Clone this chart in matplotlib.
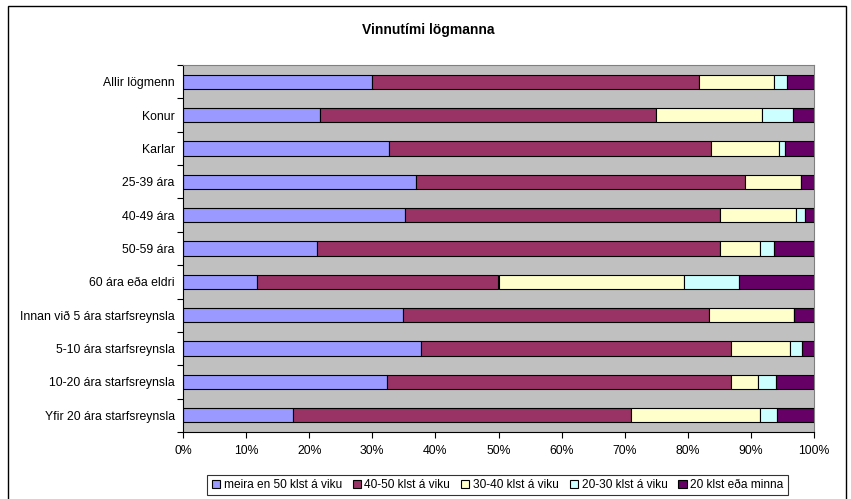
import matplotlib
matplotlib.use("Agg")
import matplotlib.pyplot as plt
from matplotlib.patches import Rectangle
import numpy as np

plt.rcParams['font.family'] = ['Liberation Sans', 'DejaVu Sans']

categories = ["Allir lögmenn", "Konur", "Karlar", "25-39 ára", "40-49 ára",
              "50-59 ára", "60 ára eða eldri", "Innan við 5 ára starfsreynsla",
              "5-10 ára starfsreynsla", "10-20 ára starfsreynsla",
              "Yfir 20 ára starfsreynsla"]
series_names = ["meira en 50 klst á viku", "40-50 klst á viku", "30-40 klst á viku",
                "20-30 klst á viku", "20 klst eða minna"]
s_over50 = [30.0, 21.7, 32.6, 37.0, 35.2, 21.2, 11.8, 34.9, 37.7, 32.3, 17.4]
s_40_50 = [51.7, 53.3, 51.0, 52.1, 49.9, 63.9, 38.2, 48.5, 49.1, 54.5, 53.6]
s_30_40 = [12.0, 16.7, 10.8, 8.9, 12.1, 6.4, 29.4, 13.5, 9.4, 4.3, 20.4]
s_20_30 = [2.0, 4.9, 1.0, 0.0, 1.4, 2.1, 8.7, 0.0, 1.9, 2.9, 2.8]
s_under20 = [4.3, 3.4, 4.6, 2.0, 1.4, 6.4, 11.9, 3.1, 1.9, 6.0, 5.8]
colors = ["#9999FF", "#993366", "#FFFFCC", "#CCFFFF", "#660066"]
xticks = [0, 10, 20, 30, 40, 50, 60, 70, 80, 90, 100]

W, H = 851, 499
fig = plt.figure(figsize=(W / 100, H / 100), dpi=100)
ax = fig.add_axes([183 / W, 1 - 432 / H, (814 - 183) / W, (432 - 65) / H])
ax.set_facecolor("#C0C0C0")

data = np.array([s_over50, s_40_50, s_30_40, s_20_30, s_under20])
data = data / data.sum(axis=0) * 100
n = len(categories)
y = np.arange(n)[::-1]
left = np.zeros(n)
handles = []
for i, (name, col) in enumerate(zip(series_names, colors)):
    b = ax.barh(y, data[i], left=left, height=0.43, color=col,
                edgecolor="black", linewidth=0.8, label=name)
    handles.append(b)
    left += data[i]

ax.set_xlim(0, 100)
ax.set_ylim(-0.5, n - 0.5)
ax.set_xticks(xticks)
ax.set_xticklabels([f"{v}%" for v in xticks], fontsize=8.8)
ax.set_yticks(y)
ax.set_yticklabels(categories, fontsize=8.8)
ax.tick_params(axis='y', length=0, pad=6)
ax.set_yticks(np.arange(-0.5, n, 1.0), minor=True)
ax.tick_params(axis='y', which='minor', length=4, width=0.8)
ax.tick_params(axis='x', length=4, width=0.8, pad=5)
for s in ["top", "right"]:
    ax.spines[s].set_color("#808080")
for s in ["left", "bottom"]:
    ax.spines[s].set_color("black")

fig.text(428 / W, 1 - 30 / H, "Vinnutími lögmanna", ha="center", va="center",
         fontsize=10, fontweight="bold")

leg = fig.legend(handles=handles, loc="center", bbox_to_anchor=(497.5 / W, 1 - 485 / H),
                 ncol=5, fontsize=8.6, frameon=True, fancybox=False,
                 edgecolor="black", handlelength=0.7, handleheight=0.7,
                 handletextpad=0.3, columnspacing=0.9, borderpad=0.35)
leg.get_frame().set_linewidth(0.8)

fig.add_artist(Rectangle((8 / W, -5 / H), (846 - 8) / W, (493 + 5) / H,
                         transform=fig.transFigure, fill=False,
                         edgecolor="black", linewidth=1))

fig.savefig("out.png", dpi=100)
